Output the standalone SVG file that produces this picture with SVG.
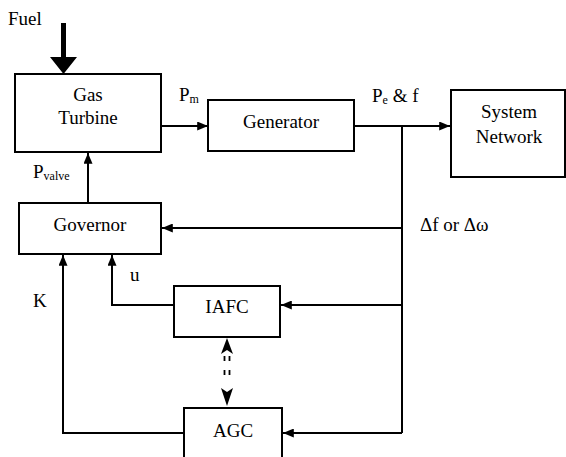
<svg xmlns="http://www.w3.org/2000/svg" width="566" height="457" viewBox="0 0 566 457" font-family="'Liberation Serif', 'DejaVu Serif', serif">
<defs>
<style>
.box{fill:#fff;stroke:#000;stroke-width:2}
.ln{fill:none;stroke:#000;stroke-width:2}
text{font-family:'Liberation Serif','DejaVu Serif',serif;font-size:19px;fill:#000}
.c{text-anchor:middle}
.sub{font-size:12px}
</style>
<marker id="ah" viewBox="0 0 12 10" refX="12" refY="5" markerWidth="12" markerHeight="9" markerUnits="userSpaceOnUse" orient="auto">
<path d="M0,0 L12,5 L0,10 Z" fill="#000"/>
</marker>
</defs>
<rect width="566" height="457" fill="#fff"/>
<g id="connectors">
<path class="ln" d="M161,126 H208" marker-end="url(#ah)"/>
<path class="ln" d="M354,126 H450" marker-end="url(#ah)"/>
<path class="ln" d="M402,126 V433"/>
<path class="ln" d="M402,228 H162" marker-end="url(#ah)"/>
<path class="ln" d="M402,305 H281" marker-end="url(#ah)"/>
<path class="ln" d="M402,433 H283" marker-end="url(#ah)"/>
<path class="ln" d="M174,305 H112 V255" marker-end="url(#ah)"/>
<path class="ln" d="M184,433 H63 V255" marker-end="url(#ah)"/>
<path class="ln" d="M88,203 V153" marker-end="url(#ah)"/>
<polygon points="61,23 66,23 66,57 77,57 63.5,74 50,57 61,57" fill="#000"/>
<g id="dashed-link">
<path d="M227,338 L233,354 L227,350 L221,354 Z" fill="#000"/>
<path d="M227,406 L233,388 L227,392 L221,388 Z" fill="#000"/>
<path d="M224.5,356 V377 M229.5,356 V377" fill="none" stroke="#000" stroke-width="1.8" stroke-dasharray="5,9"/>
</g>
</g>
<text x="8" y="25">Fuel</text>
<g id="gas-turbine">
<rect class="box" x="15" y="74" width="146" height="78"/>
<text class="c" x="88" y="101">Gas</text>
<text class="c" x="88" y="124">Turbine</text>
</g>
<text x="179" y="101">P<tspan class="sub" dy="2">m</tspan></text>
<g id="generator">
<rect class="box" x="208" y="100" width="146" height="51"/>
<text class="c" x="281" y="128">Generator</text>
</g>
<text x="372" y="102">P<tspan class="sub" dy="2">e</tspan><tspan dy="-2"> &amp; f</tspan></text>
<g id="system-network">
<rect class="box" x="451" y="90" width="114" height="87"/>
<text class="c" x="509" y="118">System</text>
<text class="c" x="509" y="143">Network</text>
</g>
<text x="33" y="178">P<tspan class="sub" dy="2">valve</tspan></text>
<g id="governor">
<rect class="box" x="19" y="203" width="142" height="51"/>
<text class="c" x="90" y="231">Governor</text>
</g>
<text x="420" y="231">Δf or Δω</text>
<text x="130" y="281">u</text>
<text x="33" y="307">K</text>
<g id="iafc">
<rect class="box" x="174" y="286" width="106" height="51"/>
<text class="c" x="227" y="313">IAFC</text>
</g>
<g id="agc">
<rect class="box" x="184" y="408" width="98" height="52"/>
<text class="c" x="233" y="437">AGC</text>
</g>
</svg>
